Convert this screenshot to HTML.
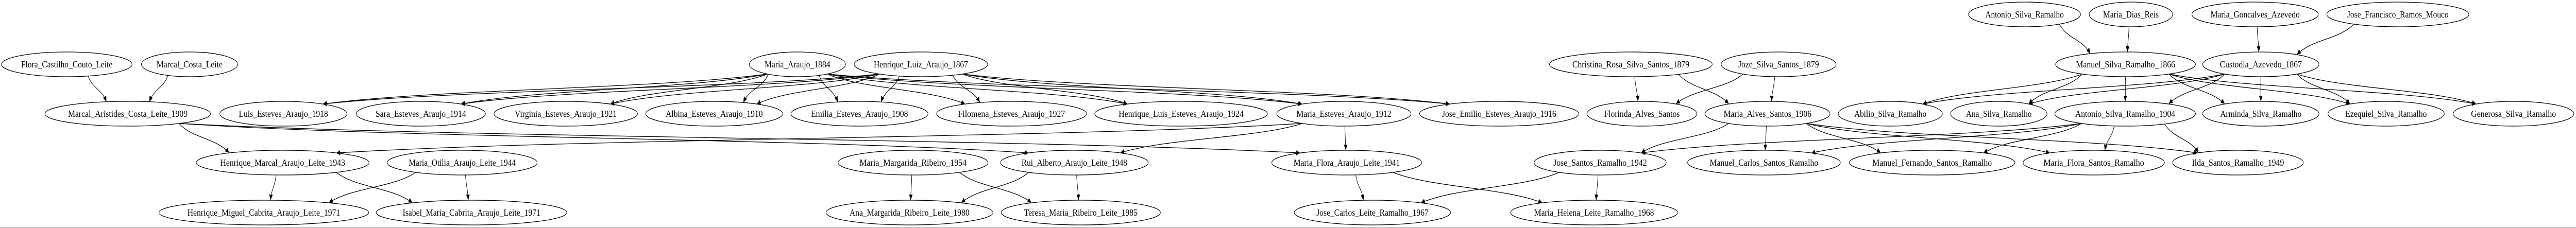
<!DOCTYPE html>
<html><head><meta charset="utf-8"><style>
html,body{margin:0;padding:0;background:#fff;width:100%;height:100%;overflow:hidden}
svg{display:block;width:100vw;height:100vh}
text{font-family:"Liberation Serif","Times New Roman",serif;font-size:18px;fill:#000}
ellipse{fill:none;stroke:#000;stroke-width:1.3}
</style></head><body>
<svg id="g" viewBox="0 0 7217 443" preserveAspectRatio="none" xmlns="http://www.w3.org/2000/svg">
<defs><marker id="a" markerUnits="userSpaceOnUse" markerWidth="12" markerHeight="12" refX="11" refY="5" orient="auto"><path d="M0,0 L11,5 L0,10 z" fill="#000"/></marker></defs>
<g id="edges" stroke="#000" stroke-width="1.3" fill="none"></g>
<g id="nodes">
<ellipse cx="187" cy="125" rx="183" ry="24"/><text x="187" y="131" text-anchor="middle" textLength="256" lengthAdjust="spacingAndGlyphs">Flora_Castilho_Couto_Leite</text>
<ellipse cx="531" cy="125" rx="135" ry="24"/><text x="531" y="131" text-anchor="middle" textLength="185" lengthAdjust="spacingAndGlyphs">Marcal_Costa_Leite</text>
<ellipse cx="358" cy="221" rx="232" ry="24"/><text x="358" y="227" text-anchor="middle" textLength="335" lengthAdjust="spacingAndGlyphs">Marcal_Aristides_Costa_Leite_1909</text>
<ellipse cx="794" cy="221" rx="178" ry="24"/><text x="794" y="227" text-anchor="middle" textLength="250" lengthAdjust="spacingAndGlyphs">Luis_Esteves_Araujo_1918</text>
<ellipse cx="1179" cy="221" rx="181" ry="24"/><text x="1179" y="227" text-anchor="middle" textLength="254" lengthAdjust="spacingAndGlyphs">Sara_Esteves_Araujo_1914</text>
<ellipse cx="1585" cy="221" rx="201" ry="24"/><text x="1585" y="227" text-anchor="middle" textLength="286" lengthAdjust="spacingAndGlyphs">Virginia_Esteves_Araujo_1921</text>
<ellipse cx="2001" cy="221" rx="192" ry="24"/><text x="2001" y="227" text-anchor="middle" textLength="272" lengthAdjust="spacingAndGlyphs">Albina_Esteves_Araujo_1910</text>
<ellipse cx="2408" cy="221" rx="192" ry="24"/><text x="2408" y="227" text-anchor="middle" textLength="272" lengthAdjust="spacingAndGlyphs">Emilia_Esteves_Araujo_1908</text>
<ellipse cx="2834" cy="221" rx="210" ry="24"/><text x="2834" y="227" text-anchor="middle" textLength="300" lengthAdjust="spacingAndGlyphs">Filomena_Esteves_Araujo_1927</text>
<ellipse cx="3309" cy="221" rx="242" ry="24"/><text x="3309" y="227" text-anchor="middle" textLength="350" lengthAdjust="spacingAndGlyphs">Henrique_Luis_Esteves_Araujo_1924</text>
<ellipse cx="3765" cy="221" rx="188" ry="24"/><text x="3765" y="227" text-anchor="middle" textLength="266" lengthAdjust="spacingAndGlyphs">Maria_Esteves_Araujo_1912</text>
<ellipse cx="4200" cy="221" rx="223" ry="24"/><text x="4200" y="227" text-anchor="middle" textLength="320" lengthAdjust="spacingAndGlyphs">Jose_Emilio_Esteves_Araujo_1916</text>
<ellipse cx="2234" cy="125" rx="135" ry="24"/><text x="2234" y="131" text-anchor="middle" textLength="184" lengthAdjust="spacingAndGlyphs">Maria_Araujo_1884</text>
<ellipse cx="2580" cy="125" rx="187" ry="24"/><text x="2580" y="131" text-anchor="middle" textLength="264" lengthAdjust="spacingAndGlyphs">Henrique_Luiz_Araujo_1867</text>
<ellipse cx="792" cy="316" rx="242" ry="24"/><text x="792" y="322" text-anchor="middle" textLength="350" lengthAdjust="spacingAndGlyphs">Henrique_Marcal_Araujo_Leite_1943</text>
<ellipse cx="1295" cy="316" rx="210" ry="24"/><text x="1295" y="322" text-anchor="middle" textLength="300" lengthAdjust="spacingAndGlyphs">Maria_Otilia_Araujo_Leite_1944</text>
<ellipse cx="2558" cy="316" rx="210" ry="24"/><text x="2558" y="322" text-anchor="middle" textLength="300" lengthAdjust="spacingAndGlyphs">Maria_Margarida_Ribeiro_1954</text>
<ellipse cx="3010" cy="316" rx="207" ry="24"/><text x="3010" y="322" text-anchor="middle" textLength="296" lengthAdjust="spacingAndGlyphs">Rui_Alberto_Araujo_Leite_1948</text>
<ellipse cx="3773" cy="316" rx="210" ry="24"/><text x="3773" y="322" text-anchor="middle" textLength="298" lengthAdjust="spacingAndGlyphs">Maria_Flora_Araujo_Leite_1941</text>
<ellipse cx="4483" cy="316" rx="185" ry="24"/><text x="4483" y="322" text-anchor="middle" textLength="262" lengthAdjust="spacingAndGlyphs">Jose_Santos_Ramalho_1942</text>
<ellipse cx="4942" cy="316" rx="214" ry="24"/><text x="4942" y="322" text-anchor="middle" textLength="304" lengthAdjust="spacingAndGlyphs">Manuel_Carlos_Santos_Ramalho</text>
<ellipse cx="5413" cy="316" rx="232" ry="24"/><text x="5413" y="322" text-anchor="middle" textLength="335" lengthAdjust="spacingAndGlyphs">Manuel_Fernando_Santos_Ramalho</text>
<ellipse cx="5866" cy="316" rx="198" ry="24"/><text x="5866" y="322" text-anchor="middle" textLength="282" lengthAdjust="spacingAndGlyphs">Maria_Flora_Santos_Ramalho</text>
<ellipse cx="6270" cy="316" rx="183" ry="24"/><text x="6270" y="322" text-anchor="middle" textLength="258" lengthAdjust="spacingAndGlyphs">Ilda_Santos_Ramalho_1949</text>
<ellipse cx="739" cy="413" rx="294" ry="24"/><text x="739" y="419" text-anchor="middle" textLength="428" lengthAdjust="spacingAndGlyphs">Henrique_Miguel_Cabrita_Araujo_Leite_1971</text>
<ellipse cx="1321" cy="413" rx="267" ry="24"/><text x="1321" y="419" text-anchor="middle" textLength="386" lengthAdjust="spacingAndGlyphs">Isabel_Maria_Cabrita_Araujo_Leite_1971</text>
<ellipse cx="2548" cy="413" rx="234" ry="24"/><text x="2548" y="419" text-anchor="middle" textLength="336" lengthAdjust="spacingAndGlyphs">Ana_Margarida_Ribeiro_Leite_1980</text>
<ellipse cx="3028" cy="413" rx="223" ry="24"/><text x="3028" y="419" text-anchor="middle" textLength="318" lengthAdjust="spacingAndGlyphs">Teresa_Maria_Ribeiro_Leite_1985</text>
<ellipse cx="3845" cy="413" rx="219" ry="24"/><text x="3845" y="419" text-anchor="middle" textLength="314" lengthAdjust="spacingAndGlyphs">Jose_Carlos_Leite_Ramalho_1967</text>
<ellipse cx="4466" cy="413" rx="234" ry="24"/><text x="4466" y="419" text-anchor="middle" textLength="336" lengthAdjust="spacingAndGlyphs">Maria_Helena_Leite_Ramalho_1968</text>
<ellipse cx="4569" cy="125" rx="228" ry="24"/><text x="4569" y="131" text-anchor="middle" textLength="328" lengthAdjust="spacingAndGlyphs">Christina_Rosa_Silva_Santos_1879</text>
<ellipse cx="4983" cy="125" rx="161" ry="24"/><text x="4983" y="131" text-anchor="middle" textLength="226" lengthAdjust="spacingAndGlyphs">Joze_Silva_Santos_1879</text>
<ellipse cx="4600" cy="221" rx="154" ry="24"/><text x="4600" y="227" text-anchor="middle" textLength="212" lengthAdjust="spacingAndGlyphs">Florinda_Alves_Santos</text>
<ellipse cx="4952" cy="221" rx="175" ry="24"/><text x="4952" y="227" text-anchor="middle" textLength="246" lengthAdjust="spacingAndGlyphs">Maria_Alves_Santos_1906</text>
<ellipse cx="5296" cy="221" rx="146" ry="24"/><text x="5296" y="227" text-anchor="middle" textLength="202" lengthAdjust="spacingAndGlyphs">Abilio_Silva_Ramalho</text>
<ellipse cx="5600" cy="221" rx="135" ry="24"/><text x="5600" y="227" text-anchor="middle" textLength="184" lengthAdjust="spacingAndGlyphs">Ana_Silva_Ramalho</text>
<ellipse cx="5954" cy="221" rx="197" ry="24"/><text x="5954" y="227" text-anchor="middle" textLength="280" lengthAdjust="spacingAndGlyphs">Antonio_Silva_Ramalho_1904</text>
<ellipse cx="6334" cy="221" rx="163" ry="24"/><text x="6334" y="227" text-anchor="middle" textLength="228" lengthAdjust="spacingAndGlyphs">Arminda_Silva_Ramalho</text>
<ellipse cx="6685" cy="221" rx="163" ry="24"/><text x="6685" y="227" text-anchor="middle" textLength="228" lengthAdjust="spacingAndGlyphs">Ezequiel_Silva_Ramalho</text>
<ellipse cx="7042" cy="221" rx="169" ry="24"/><text x="7042" y="227" text-anchor="middle" textLength="238" lengthAdjust="spacingAndGlyphs">Generosa_Silva_Ramalho</text>
<ellipse cx="5672" cy="28" rx="157" ry="24"/><text x="5672" y="34" text-anchor="middle" textLength="220" lengthAdjust="spacingAndGlyphs">Antonio_Silva_Ramalho</text>
<ellipse cx="5970" cy="28" rx="117" ry="24"/><text x="5970" y="34" text-anchor="middle" textLength="156" lengthAdjust="spacingAndGlyphs">Maria_Dias_Reis</text>
<ellipse cx="6318" cy="28" rx="177" ry="24"/><text x="6318" y="34" text-anchor="middle" textLength="250" lengthAdjust="spacingAndGlyphs">Maria_Goncalves_Azevedo</text>
<ellipse cx="6718" cy="28" rx="199" ry="24"/><text x="6718" y="34" text-anchor="middle" textLength="284" lengthAdjust="spacingAndGlyphs">Jose_Francisco_Ramos_Mouco</text>
<ellipse cx="5955" cy="125" rx="196" ry="24"/><text x="5955" y="131" text-anchor="middle" textLength="278" lengthAdjust="spacingAndGlyphs">Manuel_Silva_Ramalho_1866</text>
<ellipse cx="6334" cy="125" rx="163" ry="24"/><text x="6334" y="131" text-anchor="middle" textLength="230" lengthAdjust="spacingAndGlyphs">Custodia_Azevedo_1867</text>
</g>
<line x1="0" y1="442" x2="7217" y2="442" stroke="#b0b0b0" stroke-width="1.5"/>
</svg>
<script>
(function(){
var N={};
document.querySelectorAll('#nodes ellipse').forEach(function(e){
 var t=e.nextElementSibling.textContent;
 N[t]={x:+e.getAttribute('cx'),y:+e.getAttribute('cy'),rx:+e.getAttribute('rx'),ry:+e.getAttribute('ry')};
});
var E=[
["Flora_Castilho_Couto_Leite","Marcal_Aristides_Costa_Leite_1909"],["Marcal_Costa_Leite","Marcal_Aristides_Costa_Leite_1909"],
["Marcal_Aristides_Costa_Leite_1909","Henrique_Marcal_Araujo_Leite_1943"],["Marcal_Aristides_Costa_Leite_1909","Maria_Flora_Araujo_Leite_1941"],["Marcal_Aristides_Costa_Leite_1909","Rui_Alberto_Araujo_Leite_1948"],
["Maria_Esteves_Araujo_1912","Henrique_Marcal_Araujo_Leite_1943"],["Maria_Esteves_Araujo_1912","Maria_Flora_Araujo_Leite_1941"],["Maria_Esteves_Araujo_1912","Rui_Alberto_Araujo_Leite_1948"],
["Henrique_Marcal_Araujo_Leite_1943","Henrique_Miguel_Cabrita_Araujo_Leite_1971"],["Henrique_Marcal_Araujo_Leite_1943","Isabel_Maria_Cabrita_Araujo_Leite_1971"],
["Maria_Otilia_Araujo_Leite_1944","Henrique_Miguel_Cabrita_Araujo_Leite_1971"],["Maria_Otilia_Araujo_Leite_1944","Isabel_Maria_Cabrita_Araujo_Leite_1971"],
["Maria_Margarida_Ribeiro_1954","Ana_Margarida_Ribeiro_Leite_1980"],["Maria_Margarida_Ribeiro_1954","Teresa_Maria_Ribeiro_Leite_1985"],
["Rui_Alberto_Araujo_Leite_1948","Ana_Margarida_Ribeiro_Leite_1980"],["Rui_Alberto_Araujo_Leite_1948","Teresa_Maria_Ribeiro_Leite_1985"],
["Maria_Flora_Araujo_Leite_1941","Jose_Carlos_Leite_Ramalho_1967"],["Maria_Flora_Araujo_Leite_1941","Maria_Helena_Leite_Ramalho_1968"],
["Jose_Santos_Ramalho_1942","Jose_Carlos_Leite_Ramalho_1967"],["Jose_Santos_Ramalho_1942","Maria_Helena_Leite_Ramalho_1968"],
["Christina_Rosa_Silva_Santos_1879","Florinda_Alves_Santos"],["Christina_Rosa_Silva_Santos_1879","Maria_Alves_Santos_1906"],
["Joze_Silva_Santos_1879","Florinda_Alves_Santos"],["Joze_Silva_Santos_1879","Maria_Alves_Santos_1906"],
["Antonio_Silva_Ramalho","Manuel_Silva_Ramalho_1866"],["Maria_Dias_Reis","Manuel_Silva_Ramalho_1866"],
["Maria_Goncalves_Azevedo","Custodia_Azevedo_1867"],["Jose_Francisco_Ramos_Mouco","Custodia_Azevedo_1867"]
];
var kids1=["Luis_Esteves_Araujo_1918","Sara_Esteves_Araujo_1914","Virginia_Esteves_Araujo_1921","Albina_Esteves_Araujo_1910","Emilia_Esteves_Araujo_1908","Filomena_Esteves_Araujo_1927","Henrique_Luis_Esteves_Araujo_1924","Maria_Esteves_Araujo_1912","Jose_Emilio_Esteves_Araujo_1916"];
["Maria_Araujo_1884","Henrique_Luiz_Araujo_1867"].forEach(function(p){kids1.forEach(function(k){E.push([p,k]);});});
var kids2=["Jose_Santos_Ramalho_1942","Manuel_Carlos_Santos_Ramalho","Manuel_Fernando_Santos_Ramalho","Maria_Flora_Santos_Ramalho","Ilda_Santos_Ramalho_1949"];
["Maria_Alves_Santos_1906","Antonio_Silva_Ramalho_1904"].forEach(function(p){kids2.forEach(function(k){E.push([p,k]);});});
var kids3=["Abilio_Silva_Ramalho","Ana_Silva_Ramalho","Antonio_Silva_Ramalho_1904","Arminda_Silva_Ramalho","Ezequiel_Silva_Ramalho","Generosa_Silva_Ramalho"];
["Manuel_Silva_Ramalho_1866","Custodia_Azevedo_1867"].forEach(function(p){kids3.forEach(function(k){E.push([p,k]);});});
var g=document.getElementById('edges'),NS='http://www.w3.org/2000/svg';
function off(d,rx){var s=d<0?-1:1;return s*Math.min(Math.abs(d)*0.35,0.62*rx);}
E.forEach(function(e){
 var a=N[e[0]],b=N[e[1]];if(!a||!b)return;
 var dx=b.x-a.x;
 var ox=off(dx,a.rx),sx=a.x+ox,sy=a.y+a.ry*Math.sqrt(1-Math.pow(ox/a.rx,2));
 var ix=off(-dx,b.rx),ex=b.x+ix,ey=b.y-b.ry*Math.sqrt(1-Math.pow(ix/b.rx,2));
 var p=document.createElementNS(NS,'path');
 var my=(sy+ey)/2;
 p.setAttribute('d','M'+sx+','+sy+' C'+(sx+(ex-sx)*0.25)+','+my+' '+(ex-(ex-sx)*0.25)+','+my+' '+ex+','+ey);
 p.setAttribute('marker-end','url(#a)');
 g.appendChild(p);
});
})();
</script>
</body></html>
